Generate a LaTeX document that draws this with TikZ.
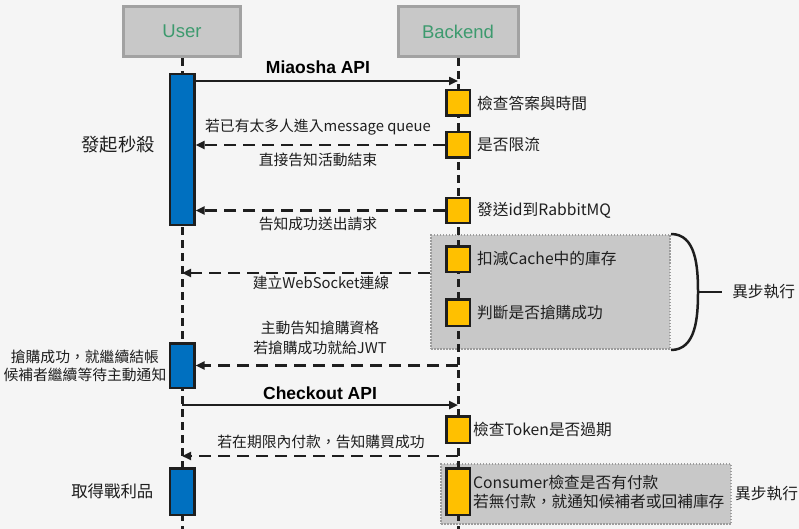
\documentclass[tikz,border=0pt]{standalone}
\usepackage{fontspec}
\setmainfont{Noto Sans CJK TC}
\newfontfamily\arialfont{Liberation Sans}
\usetikzlibrary{positioning,arrows.meta}
\definecolor{bgcol}{HTML}{F5F5F5}
\definecolor{headfill}{HTML}{C8C8C8}
\definecolor{headline}{HTML}{A2A2A2}
\definecolor{actortext}{HTML}{3D9A6E}
\definecolor{barblue}{HTML}{0070C0}
\definecolor{procyellow}{HTML}{FFC000}
\definecolor{darkline}{HTML}{1E1E1E}
\definecolor{asyncfill}{HTML}{C8C8C8}
\definecolor{asyncline}{HTML}{9C9C9C}
\begin{document}
\begin{tikzpicture}[x=1pt,y=-1pt,
  actor/.style={draw=headline,line width=3pt,fill=headfill,text=actortext,minimum height=50pt,inner sep=0pt,font=\arialfont\fontsize{18.5}{22}\selectfont},
  life/.style={draw=darkline,line width=3pt,dash pattern=on 8pt off 5pt},
  userbar/.style={draw=darkline,line width=2.5pt,fill=barblue,minimum width=24.5pt,inner sep=0pt},
  procbox/.style={draw=darkline,line width=2.5pt,fill=procyellow,minimum width=23.5pt,inner sep=0pt},
  async/.style={draw=asyncline,line width=2pt,dash pattern=on 1.5pt off 1.5pt,fill=asyncfill,inner sep=0pt},
  call/.style={draw=darkline,line width=2.5pt,-{Triangle[length=9pt,width=8pt]}},
  reply/.style={call,dash pattern=on 12pt off 7pt},
  lbl/.style={text=darkline,inner sep=0pt,font=\fontsize{14.8}{20}\selectfont},
  side/.style={text=darkline,inner sep=0pt,font=\fontsize{15.7}{19}\selectfont},
  api/.style={text=black,inner sep=0pt,font=\arialfont\bfseries\fontsize{17.5}{20}\selectfont}]

\fill[bgcol] (0,0) rectangle (799,529);
\useasboundingbox (0,0) rectangle (799,529);

\node[async,minimum width=239pt,minimum height=114pt] (13) at (550.5,292) {};
\node[async,minimum width=290pt,minimum height=60pt] (14) at (586,494) {};

\node[actor,minimum width=117pt] (1) at (182,31.5) {User};
\node[actor,minimum width=120pt] (2) at (458,31.5) {Backend};

\draw[life] (1.south) -- (1.south |- 0,529);
\draw[life] (2.south) -- (2.south |- 0,529);

\node[userbar,minimum height=150.5pt] (3) at (182,149.5) {};
\node[userbar,minimum height=44.5pt] (4) at (182,365.5) {};
\node[userbar,minimum height=46.5pt] (5) at (182,491.5) {};

\node[procbox,minimum height=25.5pt] (6) at (458,103) {};
\node[procbox,minimum height=25.5pt] (7) at (458,145) {};
\node[procbox,minimum height=24.5pt] (8) at (458,210.5) {};
\node[procbox,minimum height=25.5pt] (9) at (458,259) {};
\node[procbox,minimum height=26.5pt] (10) at (458,312.5) {};
\node[procbox,minimum height=26.5pt] (11) at (458,429.5) {};
\node[procbox,minimum height=46.5pt] (12) at (458,491.5) {};

\node[api] (15) at (318,67) {Miaosha API};
\node[lbl] (16) at (318,127) {若已有太多人進入message queue};
\node[lbl] (17) at (318,160) {直接告知活動結束};
\node[lbl] (18) at (318,224) {告知成功送出請求};
\node[lbl] (19) at (321,283) {建立WebSocket連線};
\node[lbl,align=center] (20) at (320,338) {主動告知搶購資格\\若搶購成功就給JWT};
\node[api] (21) at (320,393) {Checkout API};
\node[lbl] (22) at (321,442) {若在期限內付款，告知購買成功};

\node[side,font=\fontsize{18.3}{22}\selectfont] (23) at (118,145) {發起秒殺};
\node[lbl,align=center,font=\fontsize{14.8}{18}\selectfont] (24) [left=2pt of 4] {搶購成功，就繼續結帳\\候補者繼續等待主動通知};
\node[side,font=\fontsize{16.4}{19}\selectfont] (25) [left=15pt of 5] {取得戰利品};

\node[side] (26) [right=6pt of 6] {檢查答案與時間};
\node[side] (27) [right=6pt of 7] {是否限流};
\node[side] (28) [right=6pt of 8] {發送id到RabbitMQ};
\node[side] (29) [right=6pt of 9] {扣減Cache中的庫存};
\node[side] (30) [right=6pt of 10] {判斷是否搶購成功};
\node[side] (31) [right=2pt of 11] {檢查Token是否過期};
\node[side,align=left] (32) [right=2pt of 12] {Consumer檢查是否有付款\\若無付款，就通知候補者或回補庫存};

\draw[darkline,line width=2.5pt] (13.north east) to[out=0,in=90] ([xshift=27pt]13.east) to[out=-90,in=0] (13.south east);
\draw[darkline,line width=2.5pt] ([xshift=27pt]13.east) -- ([xshift=51pt]13.east) node[side,right=9pt] (33) {異步執行};
\node[side] (34) [right=3pt of 14] {異步執行};

\draw[call] ([yshift=-8pt]3.north east) -- ([yshift=-8pt]3.north east -| 2);
\draw[reply] (7.west) -- (7.west -| 3.east);
\draw[reply] (8.west) -- (8.west -| 3.east);
\draw[reply] (9.south -| 13.west) -- (9.south -| 1);
\draw[reply] (4.east -| 2) -- (4.east);
\draw[call] ([yshift=10pt]11.north -| 1) -- ([yshift=10pt]11.north -| 2);
\draw[reply] ([yshift=-12pt]11.south) -- ([yshift=-12pt]11.south -| 1);

\end{tikzpicture}
\end{document}
